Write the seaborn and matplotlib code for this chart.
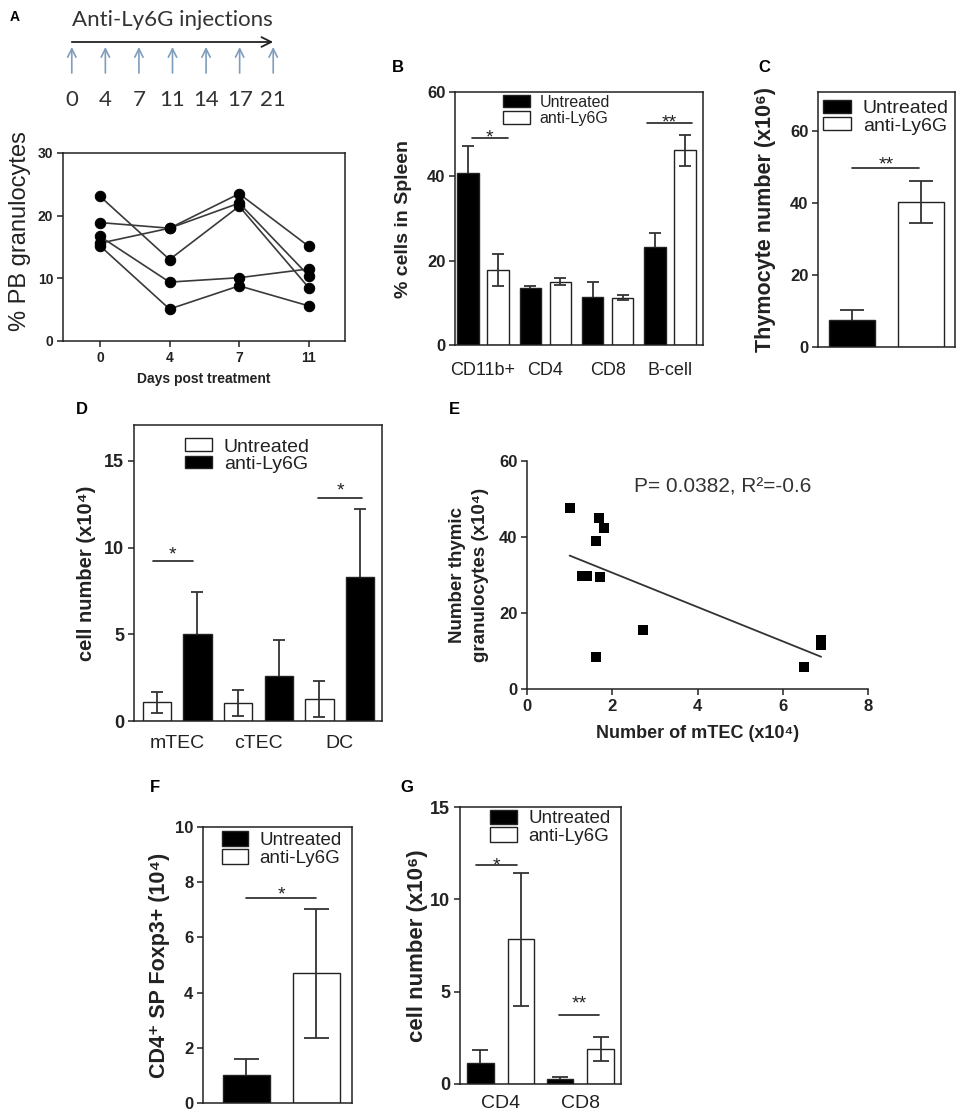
import numpy as np
import pandas as pd
import matplotlib
matplotlib.use("Agg")
import matplotlib.pyplot as plt
import matplotlib.transforms as mtrans
from matplotlib.patches import Patch
import seaborn as sns

# ---------------- data ----------------
timeline_days = [0, 4, 7, 11, 14, 17, 21]

a_days = [0, 4, 7, 11]
a_mouse1 = [23.1, 13.0, 21.5, 8.5]
a_mouse2 = [18.9, 18.0, 23.5, 15.1]
a_mouse3 = [15.6, 18.0, 22.0, 10.4]
a_mouse4 = [16.7, 9.4, 10.1, 11.5]
a_mouse5 = [15.2, 5.1, 8.8, 5.6]

groups = ["Untreated", "anti-Ly6G"]

b_cells = ["CD11b+", "CD4", "CD8", "B-cell"]
b_untreated = [40.8, 13.4, 11.3, 23.3]
b_untreated_err = [6.5, 0.7, 3.7, 3.3]
b_anti = [17.8, 15.0, 11.2, 46.2]
b_anti_err = [3.7, 0.8, 0.6, 3.7]
b_sig = [(-0.18, 0.40, 49.1, 50.7, "*"), (2.63, 3.35, 52.6, 54.3, "**")]

c_mean = [7.5, 40.3]
c_err = [2.8, 5.9]
c_sig = [(0.0, 0.97, 49.7, 52.5, "**")]

d_cells = ["mTEC", "cTEC", "DC"]
d_untreated = [1.07, 1.03, 1.25]
d_untreated_err = [0.62, 0.76, 1.03]
d_anti = [5.0, 2.6, 8.33]
d_anti_err = [2.45, 2.06, 3.87]
d_sig = [(-0.30, 0.19, 9.2, 9.94, "*"), (1.73, 2.28, 12.87, 13.68, "*")]

e_mtec = [1.0, 1.69, 1.81, 1.62, 1.30, 1.41, 1.72, 2.71, 1.62, 6.49, 6.90, 6.90]
e_gran = [47.7, 44.9, 42.5, 38.9, 29.8, 29.8, 29.5, 15.4, 8.3, 5.7, 11.5, 12.8]

f_mean = [1.0, 4.7]
f_err = [0.6, 2.33]
f_sig = [(0.0, 1.0, 7.43, 7.79, "*")]

g_cells = ["CD4", "CD8"]
g_untreated = [1.15, 0.27]
g_untreated_err = [0.7, 0.13]
g_anti = [7.85, 1.9]
g_anti_err = [3.6, 0.67]
g_sig = [(-0.31, 0.20, 11.86, 12.18, "*"), (0.73, 1.24, 3.74, 4.71, "**")]

# ---------------- style ----------------
sns.set_style("ticks")
plt.rcParams["font.family"] = ["Liberation Sans", "DejaVu Sans"]
plt.rcParams.update({
    "axes.edgecolor": "#222222", "axes.linewidth": 1.1,
    "xtick.color": "#222222", "ytick.color": "#222222",
    "text.color": "#222222", "axes.labelcolor": "#222222",
    "xtick.major.width": 1.1, "ytick.major.width": 1.1,
})

W, H = 965, 1118
fig = plt.figure(figsize=(W / 100, H / 100), dpi=100)


def box(l, r, t, b):
    return [l / W, 1 - b / H, (r - l) / W, (b - t) / H]


def style_ticks(ax, ysize, xsize=None, xbold=False):
    ax.tick_params(axis="y", direction="out", length=4, pad=3, labelsize=ysize)
    for t in ax.get_yticklabels():
        t.set_fontweight("bold")
    if xsize is not None:
        ax.tick_params(axis="x", labelsize=xsize)
        if xbold:
            for t in ax.get_xticklabels():
                t.set_fontweight("bold")


def set_ylabel_px(ax, text, px, l, r, size, weight="bold", yf=0.5, **kw):
    ax.set_ylabel(text, fontsize=size, fontweight=weight, **kw)
    ax.yaxis.set_label_coords((px - l) / (r - l), yf)
    ax.yaxis.label.set_verticalalignment("center")


def add_errors(ax, errs, capsize):
    bars = sorted(ax.patches, key=lambda p: p.get_x())
    for p, e in zip(bars, errs):
        xc = p.get_x() + p.get_width() / 2
        h = p.get_height()
        dark = p.get_facecolor()[0] < 0.5
        ax.errorbar(xc, h, yerr=e, color="#333333", lw=1.3, capsize=capsize,
                    capthick=1.3, zorder=0.5 if dark else 3)


def add_sig(ax, sigs, fs=14):
    for x1, x2, yl, ys, lab in sigs:
        ax.plot([x1, x2], [yl, yl], color="#222222", lw=1.2)
        tr = mtrans.offset_copy(ax.transData, fig=fig, y=-0.58 * fs, units="points")
        ax.text((x1 + x2) / 2, ys, lab, ha="center", va="baseline", fontsize=fs, transform=tr)


def add_legend(ax, colors, xf, yf, fs, hl, hh, sp=0.1):
    handles = [Patch(facecolor=c, edgecolor="#222222", lw=1.0, label=g) for g, c in zip(groups, colors)]
    ax.legend(handles=handles, loc="upper left", bbox_to_anchor=(xf, yf), frameon=False,
              fontsize=fs, handlelength=hl, handleheight=hh, handletextpad=0.6,
              labelspacing=sp, borderpad=0, borderaxespad=0)


def panel_letter(x, y, s, size=12):
    fig.text(x / W, 1 - y / H, s, fontsize=size, fontweight="bold", ha="center", va="center", color="black")


def grouped_bars(ax, cats, mu, ma, eu, ea, colors, width, gap, capsize):
    n = len(cats)
    df = pd.DataFrame({"cell": cats + cats, "group": [groups[0]] * n + [groups[1]] * n,
                       "value": mu + ma})
    sns.barplot(data=df, x="cell", y="value", hue="group", hue_order=groups, order=cats,
                palette=dict(zip(groups, colors)), saturation=1, edgecolor="#222222",
                linewidth=1.0, width=width, gap=gap, errorbar=None, legend=False, ax=ax)
    errs = []
    for i in range(n):
        errs += [eu[i], ea[i]]
    add_errors(ax, errs, capsize)


def single_bars(ax, means, errs, colors, width, capsize):
    df = pd.DataFrame({"group": groups, "value": means})
    sns.barplot(data=df, x="group", y="value", hue="group", hue_order=groups, order=groups,
                palette=dict(zip(groups, colors)), saturation=1, edgecolor="#222222",
                linewidth=1.0, width=width, errorbar=None, legend=False, ax=ax)
    add_errors(ax, errs, capsize)


# ---------------- Panel A timeline ----------------
axT = fig.add_axes(box(55, 290, 0, 120))
axT.set_xlim(-0.5, len(timeline_days) - 0.5)
axT.set_ylim(120, 0)
axT.axis("off")
axT.text((len(timeline_days) - 1) / 2, 20, "Anti-Ly6G injections", ha="center", va="center",
         fontsize=16, family=["Lato", "DejaVu Sans"], color="#333333")
axT.annotate("", xy=(len(timeline_days) - 1, 42), xytext=(0, 42),
             arrowprops=dict(arrowstyle="->,head_length=0.7,head_width=0.35", color="#222222", lw=1.3,
                             shrinkA=0, shrinkB=0))
for i, d in enumerate(timeline_days):
    axT.annotate("", xy=(i, 47), xytext=(i, 73),
                 arrowprops=dict(arrowstyle="->,head_length=0.6,head_width=0.3", color="#7f9dbd", lw=1.2,
                                 shrinkA=0, shrinkB=0))
    axT.text(i, 100, str(d), ha="center", va="center", fontsize=16,
             family=["Lato", "DejaVu Sans"], color="#333333")

# ---------------- Panel A line chart ----------------
lA, rA, tA, bA = 63, 345, 153, 341
axA = fig.add_axes(box(lA, rA, tA, bA))
mice = [a_mouse1, a_mouse2, a_mouse3, a_mouse4, a_mouse5]
dfA = pd.DataFrame({
    "pos": [i for _ in mice for i in range(len(a_days))],
    "pct": [v for m in mice for v in m],
    "mouse": [k for k, m in enumerate(mice) for _ in m],
})
sns.lineplot(data=dfA, x="pos", y="pct", units="mouse", estimator=None, color="#3a3a3a", lw=1.2,
             marker="o", markersize=7.5, markerfacecolor="black", markeredgecolor="black",
             legend=False, ax=axA)
axA.set_xlim(-0.53, 3.52)
axA.set_ylim(0, 30)
axA.set_yticks([0, 10, 20, 30])
axA.set_xticks(range(len(a_days)))
axA.set_xticklabels([str(d) for d in a_days])
axA.tick_params(axis="x", direction="out", length=4, pad=3)
style_ticks(axA, 10, 10, xbold=True)
axA.set_xlabel("Days post treatment", fontsize=10, fontweight="bold", labelpad=5)
set_ylabel_px(axA, "% PB granulocytes", 20, lA, rA, 17, weight="normal", yf=0.585)
panel_letter(15, 17, "A", 10)

# ---------------- Panel B ----------------
lB, rB, tB, bB = 455, 703, 92, 345
axB = fig.add_axes(box(lB, rB, tB, bB))
grouped_bars(axB, b_cells, b_untreated, b_anti, b_untreated_err, b_anti_err,
             ["black", "white"], width=0.96, gap=0.29, capsize=4.3)
axB.set_xlim(-0.45, 3.53)
axB.set_ylim(0, 60)
axB.set_yticks([0, 20, 40, 60])
axB.set_xlabel("")
axB.tick_params(axis="x", length=0, pad=12)
style_ticks(axB, 12, 13)
set_ylabel_px(axB, "% cells in Spleen", 403, lB, rB, 14)
add_sig(axB, b_sig)
add_legend(axB, ["black", "white"], 0.194, 0.99, 11.5, 1.7, 0.8)
panel_letter(398, 68, "B")

# ---------------- Panel C ----------------
lC, rC, tC, bC = 818, 955, 92, 347
axC = fig.add_axes(box(lC, rC, tC, bC))
single_bars(axC, c_mean, c_err, ["black", "white"], width=0.67, capsize=8.7)
axC.set_xlim(-0.5, 1.49)
axC.set_ylim(0, 70.8)
axC.set_yticks([0, 20, 40, 60])
axC.set_xticks([])
axC.set_xlabel("")
style_ticks(axC, 12)
set_ylabel_px(axC, "Thymocyte number (x10⁶)", 765, lC, rC, 15.5)
add_sig(axC, c_sig)
add_legend(axC, ["black", "white"], 0.036, 0.97, 14, 1.45, 0.67, sp=0.0)
panel_letter(764, 68, "C")

# ---------------- Panel D ----------------
lD, rD, tD, bD = 134, 382, 425, 721
axD = fig.add_axes(box(lD, rD, tD, bD))
grouped_bars(axD, d_cells, d_untreated, d_anti, d_untreated_err, d_anti_err,
             ["white", "black"], width=1.0, gap=0.3, capsize=4.6)
axD.set_xlim(-0.53, 2.52)
axD.set_ylim(0, 17.07)
axD.set_yticks([0, 5, 10, 15])
axD.set_xlabel("")
axD.tick_params(axis="x", length=0, pad=10)
style_ticks(axD, 13, 14)
set_ylabel_px(axD, "cell number (x10⁴)", 87, lD, rD, 14.5)
add_sig(axD, d_sig)
add_legend(axD, ["white", "black"], 0.206, 0.955, 14, 1.4, 0.63, sp=0.0)
panel_letter(82, 409, "D")

# ---------------- Panel E ----------------
lE, rE, tE, bE = 527, 868, 461, 689
axE = fig.add_axes(box(lE, rE, tE, bE))
sns.regplot(x=e_mtec, y=e_gran, ci=None, marker="s", color="black", truncate=True,
            scatter_kws=dict(s=62, linewidths=0, alpha=1), line_kws=dict(color="#333333", lw=1.3), ax=axE)
axE.set_xlim(0, 8)
axE.set_ylim(0, 60)
axE.set_xticks([0, 2, 4, 6, 8])
axE.set_yticks([0, 20, 40, 60])
sns.despine(ax=axE)
axE.tick_params(axis="x", direction="out", length=4, pad=3)
style_ticks(axE, 12, 12, xbold=True)
axE.set_xlabel("Number of mTEC (x10⁴)", fontsize=13, fontweight="bold", labelpad=8)
set_ylabel_px(axE, "Number thymic\ngranulocytes (x10⁴)", 469, lE, rE, 13.5, linespacing=1.45)
axE.text(0.315, 0.885, "P= 0.0382, R²=-0.6", transform=axE.transAxes, fontsize=15,
         ha="left", va="center", color="#333333")
panel_letter(454, 409, "E")

# ---------------- Panel F ----------------
lF, rF, tF, bF = 203, 352, 827, 1103
axF = fig.add_axes(box(lF, rF, tF, bF))
single_bars(axF, f_mean, f_err, ["black", "white"], width=0.67, capsize=9)
axF.set_xlim(-0.62, 1.51)
axF.set_ylim(0, 10)
axF.set_yticks([0, 2, 4, 6, 8, 10])
axF.set_xticks([])
axF.set_xlabel("")
style_ticks(axF, 12)
set_ylabel_px(axF, "CD4⁺ SP Foxp3+ (10⁴)", 160, lF, rF, 15.5)
add_sig(axF, f_sig)
add_legend(axF, ["black", "white"], 0.128, 0.985, 13.5, 1.38, 0.85, sp=0.0)
panel_letter(155, 787, "F")

# ---------------- Panel G ----------------
lG, rG, tG, bG = 460, 621, 807, 1084
axG = fig.add_axes(box(lG, rG, tG, bG))
grouped_bars(axG, g_cells, g_untreated, g_anti, g_untreated_err, g_anti_err,
             ["black", "white"], width=1.02, gap=0.35, capsize=6)
axG.set_xlim(-0.51, 1.51)
axG.set_ylim(0, 15)
axG.set_yticks([0, 5, 10, 15])
axG.set_xlabel("")
axG.tick_params(axis="x", length=0, pad=8)
style_ticks(axG, 13, 14)
set_ylabel_px(axG, "cell number (x10⁶)", 417, lG, rG, 16)
add_sig(axG, g_sig)
add_legend(axG, ["black", "white"], 0.186, 0.99, 13.5, 1.43, 0.8, sp=0.0)
panel_letter(407, 787, "G")

fig.savefig("out.png", dpi=100)
